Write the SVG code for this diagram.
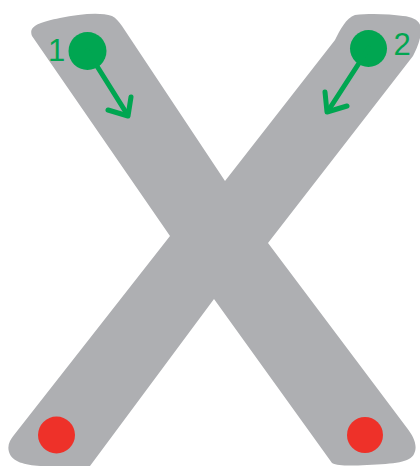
<svg xmlns="http://www.w3.org/2000/svg" width="420" height="466" viewBox="0 0 420 466">
  <style>
    .shape { fill: #aeafb2; }
    .start { fill: #00a651; }
    .end { fill: #ee3129; }
    .arrow { fill: none; stroke: #00a651; stroke-width: 5; stroke-linecap: round; stroke-linejoin: round; }
    .label { fill: #00a651; font-family: "Liberation Sans", Arial, sans-serif; font-size: 31px; text-anchor: middle; }
  </style>
  <g id="letter-x">
    <path class="shape" d="M 32,36 C 28,26 40,22 60,18 C 80,14 100,12 112,16 C 116,18 119,22 122,26 L 225,181 L 335,40 C 340,30 346,18 355,15 C 370,13 390,14 403,16 C 415,17 422,22 421,32 C 420,42 416,50 413,56 L 268,243 L 407,428 C 414,437 418,446 414,454 C 410,462 395,464 367,465 C 350,466 338,466 332,463 L 214,299 L 90,466 L 40,466 C 25,465 12,462 9,452 C 7,445 10,440 14,435 L 170,236 Z"/>
  </g>
  <g id="start-1">
    <circle class="start" cx="87.5" cy="51" r="19"/>
    <text class="label" x="56.7" y="61">1</text>
  </g>
  <g id="start-2">
    <circle class="start" cx="368.5" cy="48.5" r="18.5"/>
    <text class="label" x="402" y="55">2</text>
  </g>
  <g id="end-1">
    <circle class="end" cx="56.5" cy="435" r="18.5"/>
  </g>
  <g id="end-2">
    <circle class="end" cx="365" cy="435" r="18"/>
  </g>
  <g id="connectors">
    <path class="arrow" d="M 87.5,51 L 127,114"/>
    <path class="arrow" d="M 108,110 L 128,116 L 131,97"/>
    <path class="arrow" d="M 368.5,48.5 L 328,111"/>
    <path class="arrow" d="M 325,92 L 327,112 L 347,106"/>
  </g>
</svg>
